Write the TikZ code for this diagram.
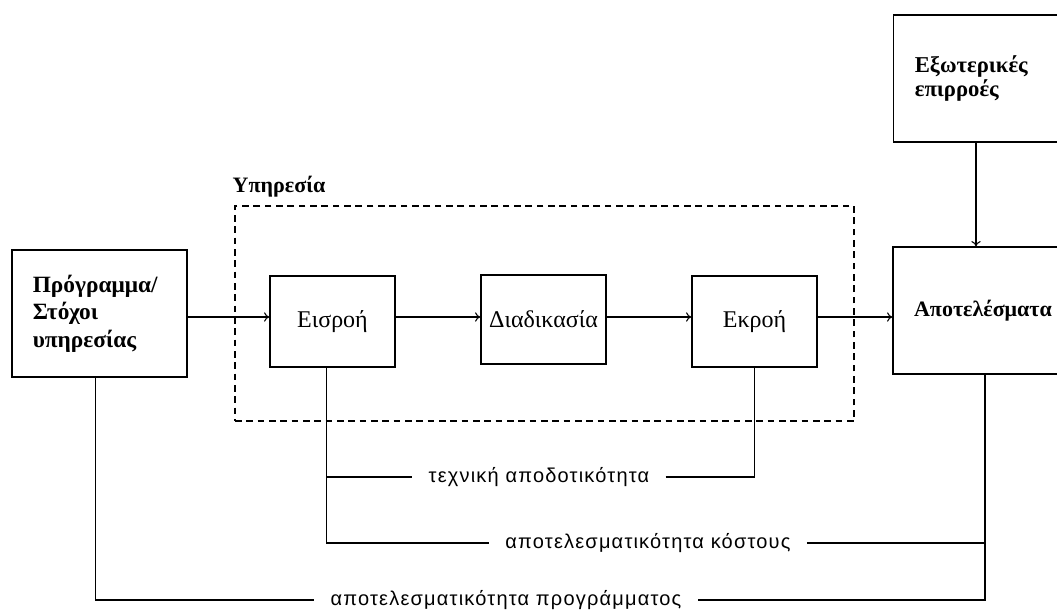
\documentclass[tikz,border=0pt]{standalone}
\usepackage{fontspec}
\setmainfont{Liberation Serif}
\newfontfamily\lblfont[LetterSpace=6]{Liberation Sans}
\usetikzlibrary{arrows.meta,positioning}

\begin{document}
\begin{tikzpicture}[
  x=0.75pt,y=-0.75pt,
  box/.style={draw,line width=0.9pt,inner sep=0pt,
              minimum width=93.75pt,minimum height=68.25pt,
              align=center,font=\fontsize{18}{21}\selectfont},
  bigbox/.style={box,minimum width=135pt,minimum height=95.25pt,
                 font=\fontsize{16.5}{20}\selectfont\bfseries},
  svcbox/.style={draw,line width=0.8pt,dash pattern=on 5pt off 3.5pt,
                 minimum width=464.25pt,minimum height=161.25pt},
  lbl/.style={inner xsep=12pt,inner ysep=2pt,
              font=\lblfont\fontsize{15}{17}\selectfont},
  ln/.style={line width=0.8pt},
  arr/.style={ln,-{To[length=4pt,width=7pt]}}
]
\useasboundingbox (0,0) rectangle (1057,612);

% boxes
\node[bigbox,minimum width=131.25pt,text width=100pt,align=left,
      font=\fontsize{17.5}{20.5}\selectfont\bfseries]
     (prog) at (99.5,313.5) {Πρόγραμμα/\\Στόχοι\\υπηρεσίας};
\node[svcbox] (svc) at (544.5,313.5) {};
\node[anchor=south west,inner sep=0pt,font=\fontsize{16.5}{18}\selectfont\bfseries]
     (svclbl) at ([xshift=-1.5pt,yshift=6pt]svc.north west) {Υπηρεσία};
\node[box] (eisr) at (332.5,321.5) {Εισροή};
\node[box,minimum height=66.75pt] (diad) at (543.5,319.5) {Διαδικασία};
\node[box] (ekr) at (754.5,321.5) {Εκροή};
\node[bigbox] (apot) at (983,310.5) {Αποτελέσματα};
\node[bigbox,text width=103pt,align=left,
      font=\fontsize{17}{18.5}\selectfont\bfseries]
     (exot) at (983.5,78.5) {Εξωτερικές\\επιρροές};

% labels
\node[lbl] (tech) at (539,477) {τεχνική αποδοτικότητα};
\node[lbl] (cost) at (648,543) {αποτελεσματικότητα κόστους};
\node[lbl] (prgm) at (506,600) {αποτελεσματικότητα προγράμματος};

% flow
\coordinate (ax) at (0,317);
\draw[arr] (prog.east |- ax) -- (eisr.west |- ax);
\draw[arr] (eisr.east |- ax) -- (diad.west |- ax);
\draw[arr] (diad.east |- ax) -- (ekr.west |- ax);
\draw[arr] (ekr.east |- ax) -- (apot.west |- ax);
\draw[arr] (exot.south -| 976,0) -- (apot.north -| 976,0);

% measures
\draw[ln] ([xshift=-4.5pt]eisr.south) |- (tech.west);
\draw[ln] ([xshift=-4.5pt]eisr.south) |- (cost.west);
\draw[ln] (tech.east) -| (ekr.south);
\draw[ln] (cost.east) -- (cost.east -| 985,0);
\draw[ln] (apot.south -| 985,0) |- (prgm.east);
\draw[ln] ([xshift=-3pt]prog.south) |- (prgm.west);
\end{tikzpicture}
\end{document}
